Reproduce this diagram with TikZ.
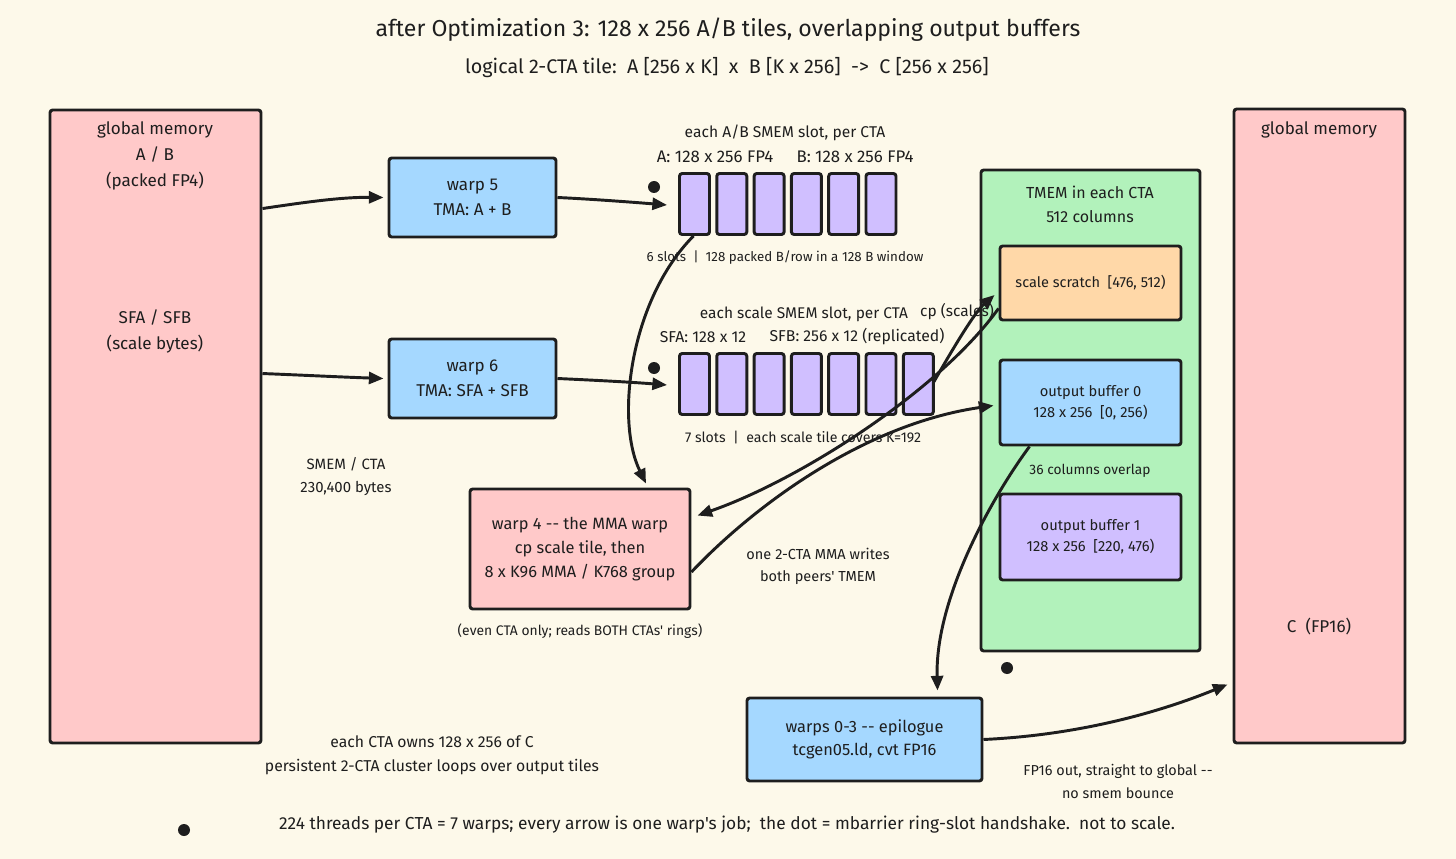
\documentclass[tikz,border=0pt]{standalone}
\usepackage{fontspec}
\setmainfont{Fira Sans}[Ligatures=TeXOff]
\usetikzlibrary{arrows.meta,calc}
\definecolor{bg}{HTML}{FDF9EA}
\definecolor{ink}{HTML}{1E1E1E}
\definecolor{pinkf}{HTML}{FFC9C9}
\definecolor{bluef}{HTML}{A5D8FF}
\definecolor{purplef}{HTML}{D0BFFF}
\definecolor{greenf}{HTML}{B2F2BB}
\definecolor{orangef}{HTML}{FFD8A8}
\newcommand{\fsz}[2]{\fontsize{#1}{#2}\selectfont}
\tikzset{
  box/.style={draw=ink, line width=2.2pt, rounded corners=2pt, inner sep=0pt},
  slotbox/.style={box, fill=purplef, minimum width=22.5pt, minimum height=45.75pt},
  txt/.style={text=ink, font=\fsz{12.5pt}{18pt}, inner sep=0pt, align=center},
  arr/.style={draw=ink, line width=2.2pt, -{Triangle[length=11pt,width=9pt]}},
  dot/.style={circle, fill=ink, inner sep=0pt, minimum size=9pt},
}
\begin{document}
\begin{tikzpicture}[x=0.75pt,y=-0.75pt]
\useasboundingbox (0,0) rectangle (1456,859);
\fill[bg] (0,0) rectangle (1456,859);

% titles
\node[txt, font=\fsz{17.3pt}{20pt}] (title) at (728,30) {after Optimization 3: 128 x 256 A/B tiles, overlapping output buffers};
\node[txt, font=\fsz{14.8pt}{17pt}] (subtitle) at (727,68) {logical 2-CTA tile:\ \ A [256 x K]\ \ x\ \ B [K x 256]\ \ ->\ \ C [256 x 256]};

% global memory boxes
\node[box, fill=pinkf, minimum width=158.25pt, minimum height=474.75pt] (gmL) at (155.5,426.5) {};
\node[txt, font=\fsz{12.8pt}{19.5pt}] (gmLt) at (155,156) {global memory\\A / B\\(packed FP4)};
\node[txt, font=\fsz{12.8pt}{19.5pt}] (gmLs) at (155,331) {SFA / SFB\\(scale bytes)};
\node[box, fill=pinkf, minimum width=128.25pt, minimum height=475.5pt] (gmR) at (1319.5,426) {};
\node[txt, font=\fsz{12.8pt}{19.5pt}] (gmRt) at (1319,130) {global memory};
\node[txt, font=\fsz{12.8pt}{19.5pt}] (gmRc) at (1319,627) {C\ \ (FP16)};

% warps 5, 6
\node[box, fill=bluef, minimum width=125.25pt, minimum height=59.25pt, txt, font=\fsz{12.8pt}{18.75pt}] (w5) at (472.5,197.5) {warp 5\\TMA: A + B};
\node[box, fill=bluef, minimum width=125.25pt, minimum height=59.25pt, txt, font=\fsz{12.8pt}{18.75pt}] (w6) at (472.5,378.5) {warp 6\\TMA: SFA + SFB};

% A/B slots
\foreach \i in {1,...,6}{
  \node[slotbox] (ab\i) at ({694.5+37.3*(\i-1)},204) {};
}
\node[dot] (dotab) at (654,187) {};
\node[txt, font=\fsz{11.7pt}{14pt}] (abh) at (785,133) {each A/B SMEM slot, per CTA};
\node[txt, font=\fsz{12.6pt}{14pt}] (aba) at (715,157) {A: 128 x 256 FP4};
\node[txt, font=\fsz{12.6pt}{14pt}] (abb) at (855,157) {B: 128 x 256 FP4};
\node[txt, font=\fsz{10pt}{12pt}] (abf) at (785,258) {6 slots\ \ |\ \ 128 packed B/row in a 128 B window};

% scale slots
\foreach \i in {1,...,7}{
  \node[slotbox] (sc\i) at ({694.5+37.3*(\i-1)},384) {};
}
\node[dot] (dotsc) at (654,368) {};
\node[txt, font=\fsz{11.6pt}{14pt}] (sch) at (804,314) {each scale SMEM slot, per CTA};
\node[txt, font=\fsz{11.8pt}{14pt}] (sca) at (703,337) {SFA: 128 x 12};
\node[txt, font=\fsz{11.8pt}{14pt}] (scb) at (857,337) {SFB: 256 x 12 (replicated)};
\node[txt, font=\fsz{10.6pt}{12pt}] (scf) at (803,438) {7 slots\ \ |\ \ each scale tile covers K=192};

% TMEM
\node[box, fill=greenf, minimum width=164.25pt, minimum height=360.75pt] (tmem) at (1090.5,410.5) {};
\node[txt, font=\fsz{12pt}{18pt}] (tmemt) at (1090,204) {TMEM in each CTA\\512 columns};
\node[box, fill=orangef, minimum width=135.75pt, minimum height=55.5pt, txt, font=\fsz{10.9pt}{13pt}] (scr) at (1090.5,283) {scale scratch\ \ [476, 512)};
\node[box, fill=bluef, minimum width=135.75pt, minimum height=63.75pt, txt, font=\fsz{11pt}{15.75pt}] (ob0) at (1090.5,402.5) {output buffer 0\\128 x 256\ \ [0, 256)};
\node[txt, font=\fsz{10.3pt}{12pt}] (ovl) at (1090,471) {36 columns overlap};
\node[box, fill=purplef, minimum width=135.75pt, minimum height=64.5pt, txt, font=\fsz{11pt}{15.75pt}] (ob1) at (1090.5,537) {output buffer 1\\128 x 256\ \ [220, 476)};
\node[dot] (dott) at (1007,668) {};
\node[txt, font=\fsz{11.6pt}{14pt}] (cpl) at (957,312) {cp (scales)};

% warp 4
\node[box, fill=pinkf, minimum width=165pt, minimum height=90pt, txt, font=\fsz{12.3pt}{18pt}] (w4) at (580,549) {warp 4 -- the MMA warp\\cp scale tile, then\\8 x K96 MMA / K768 group};
\node[txt, font=\fsz{10.4pt}{12pt}] (w4n) at (580,631) {(even CTA only; reads BOTH CTAs' rings)};
\node[txt, font=\fsz{10.9pt}{16.5pt}] (mmal) at (818,566) {one 2-CTA MMA writes\\both peers' TMEM};
\node[txt, font=\fsz{11.2pt}{17.25pt}] (smem) at (346,477) {SMEM / CTA\\230,400 bytes};

% epilogue
\node[box, fill=bluef, minimum width=176.25pt, minimum height=62.25pt, txt, font=\fsz{12.3pt}{17.25pt}] (epi) at (864.5,739.5) {warps 0-3 -- epilogue\\tcgen05.ld, cvt FP16};
\node[txt, font=\fsz{10.8pt}{17.25pt}] (outl) at (1118,781) {FP16 out, straight to global --\\no smem bounce};

% notes
\node[txt, font=\fsz{11.8pt}{18pt}] (own) at (432,755) {each CTA owns 128 x 256 of C\\persistent 2-CTA cluster loops over output tiles};
\node[dot] (dotl) at (184,830) {};
\node[txt, font=\fsz{13pt}{15pt}] (legend) at (727,825) {224 threads per CTA = 7 warps; every arrow is one warp's job;\ \ the dot = mbarrier ring-slot handshake.\ \ not to scale.};

% arrows
\draw[arr] ($(gmL.north east)+(0,100)$) .. controls (300,203) and (340,197) .. ($(w5.west)+(-4,0)$);
\draw[arr] ($(gmL.north east)+(0,265)$) .. controls (300,375) and (340,377) .. ($(w6.west)+(-4,0)$);
\draw[arr] (w5.east) .. controls (590,199) and (630,202) .. ($(ab1.west)+(-11,1)$);
\draw[arr] (w6.east) .. controls (590,380) and (630,382) .. ($(sc1.west)+(-11,1)$);
\draw[arr] ($(ab1.south)+(-1,0)$) .. controls (630,300) and (615,420) .. ($(w4.north)+(66,-4)$);
\draw[arr] ($(sc7.east)+(-1,-2)$) .. controls (955,345) and (975,312) .. ($(scr.west)+(-4,12)$);
\draw[arr] ($(scr.south west)+(0,-13)$) .. controls (940,390) and (800,480) .. ($(w4.north east)+(6,28)$);
\draw[arr] ($(w4.east)+(0,23)$) .. controls (750,510) and (860,425) .. ($(ob0.west)+(-5,3)$);
\draw[arr] ($(ob0.south west)+(31,0)$) .. controls (990,500) and (935,600) .. ($(epi.north)+(73,-6)$);
\draw[arr] (epi.east) .. controls (1080,735) and (1160,712) .. ($(gmR.south west)+(-5,-60)$);
\end{tikzpicture}
\end{document}
